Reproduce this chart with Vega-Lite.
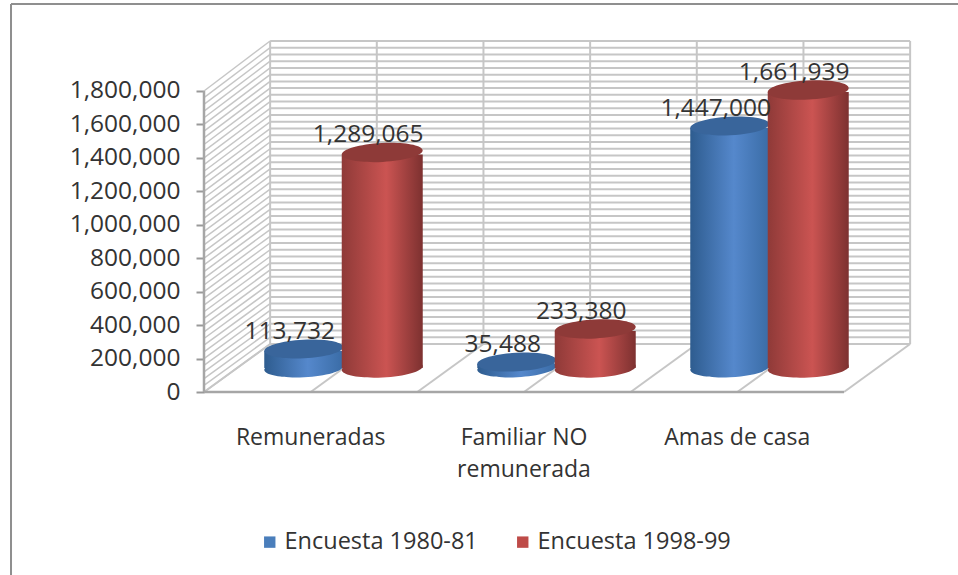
{"$schema":"https://vega.github.io/schema/vega-lite/v6.json","width":958,"height":575,"autosize":{"type":"none"},"padding":0,"background":"white","view":{"stroke":null},
"config":{"view":{"stroke":null},"font":"Open Sans"},
"datasets":{
"chart":[{"cat":"Remuneradas","series":"Encuesta 1980-81","value":113732},{"cat":"Remuneradas","series":"Encuesta 1998-99","value":1289065},{"cat":"Familiar NO remunerada","series":"Encuesta 1980-81","value":35488},{"cat":"Familiar NO remunerada","series":"Encuesta 1998-99","value":233380},{"cat":"Amas de casa","series":"Encuesta 1980-81","value":1447000},{"cat":"Amas de casa","series":"Encuesta 1998-99","value":1661939}],
"levels":[{"level":0,"back":287000},{"level":40000,"back":327267},{"level":80000,"back":367533},{"level":120000,"back":407800},{"level":160000,"back":448067},{"level":200000,"back":488333},{"level":240000,"back":528600},{"level":280000,"back":568867},{"level":320000,"back":609133},{"level":360000,"back":649400},{"level":400000,"back":689667},{"level":440000,"back":729933},{"level":480000,"back":770200},{"level":520000,"back":810467},{"level":560000,"back":850733},{"level":600000,"back":891000},{"level":640000,"back":931267},{"level":680000,"back":971533},{"level":720000,"back":1011800},{"level":760000,"back":1052067},{"level":800000,"back":1092333},{"level":840000,"back":1132600},{"level":880000,"back":1172867},{"level":920000,"back":1213133},{"level":960000,"back":1253400},{"level":1000000,"back":1293667},{"level":1040000,"back":1333933},{"level":1080000,"back":1374200},{"level":1120000,"back":1414467},{"level":1160000,"back":1454733},{"level":1200000,"back":1495000},{"level":1240000,"back":1535267},{"level":1280000,"back":1575533},{"level":1320000,"back":1615800},{"level":1360000,"back":1656067},{"level":1400000,"back":1696333},{"level":1440000,"back":1736600},{"level":1480000,"back":1776867},{"level":1520000,"back":1817133},{"level":1560000,"back":1857400},{"level":1600000,"back":1897667},{"level":1640000,"back":1937933},{"level":1680000,"back":1978200},{"level":1720000,"back":2018467},{"level":1760000,"back":2058733},{"level":1800000,"back":2099000}],
"sections":[{"u":0,"ub":0.62},{"u":1,"ub":1.62},{"u":2,"ub":2.62},{"u":3,"ub":3.62},{"u":4,"ub":4.62},{"u":5,"ub":5.62},{"u":6,"ub":6.62}],
"frame":[{"edge":"frame"}]
},
"layer":[
{"layer":[
{"data":{"name":"frame"},"mark":{"type":"rule","color":"#8f8f8f","strokeWidth":2},"encoding":{"x":{"datum":-1.8093,"type":"quantitative","scale":{"domain":[-1.9125,7.0688],"nice":false,"zero":false},"axis":null},"x2":{"datum":7.0688},"y":{"datum":2319900,"type":"quantitative","scale":{"domain":[-1094000,2344000],"nice":false,"zero":false},"axis":null}}},
{"data":{"name":"frame"},"mark":{"type":"rule","color":"#8f8f8f","strokeWidth":2},"encoding":{"x":{"datum":-1.8093,"type":"quantitative","scale":{"domain":[-1.9125,7.0688],"nice":false,"zero":false},"axis":null},"y":{"datum":2319900,"type":"quantitative","scale":{"domain":[-1094000,2344000],"nice":false,"zero":false},"axis":null},"y2":{"datum":-1094000}}},
{"data":{"name":"levels"},"mark":{"type":"rule","color":"#c6c6c6","strokeWidth":2},"encoding":{"x":{"datum":0.62,"type":"quantitative","scale":{"domain":[-1.9125,7.0688],"nice":false,"zero":false},"axis":null},"x2":{"datum":6.62},"y":{"field":"back","type":"quantitative","scale":{"domain":[-1094000,2344000],"nice":false,"zero":false},"axis":null}}},
{"data":{"name":"levels"},"mark":{"type":"rule","color":"#c6c6c6","strokeWidth":1.5},"encoding":{"x":{"datum":0,"type":"quantitative","scale":{"domain":[-1.9125,7.0688],"nice":false,"zero":false},"axis":null},"x2":{"datum":0.62},"y":{"field":"level","type":"quantitative","scale":{"domain":[-1094000,2344000],"nice":false,"zero":false},"axis":null},"y2":{"field":"back"}}},
{"data":{"name":"sections"},"mark":{"type":"rule","color":"#c6c6c6","strokeWidth":2},"encoding":{"x":{"field":"ub","type":"quantitative","scale":{"domain":[-1.9125,7.0688],"nice":false,"zero":false},"axis":null},"y":{"datum":287000,"type":"quantitative","scale":{"domain":[-1094000,2344000],"nice":false,"zero":false},"axis":null},"y2":{"datum":2099000}}},
{"data":{"name":"sections"},"mark":{"type":"rule","color":"#c6c6c6","strokeWidth":2},"encoding":{"x":{"field":"u","type":"quantitative","scale":{"domain":[-1.9125,7.0688],"nice":false,"zero":false},"axis":null},"x2":{"field":"ub"},"y":{"datum":0,"type":"quantitative","scale":{"domain":[-1094000,2344000],"nice":false,"zero":false},"axis":null},"y2":{"datum":287000}}},
{"data":{"name":"frame"},"mark":{"type":"rule","color":"#a6a6a6","strokeWidth":2.5},"encoding":{"x":{"datum":0,"type":"quantitative","scale":{"domain":[-1.9125,7.0688],"nice":false,"zero":false},"axis":null},"y":{"datum":0,"type":"quantitative","scale":{"domain":[-1094000,2344000],"nice":false,"zero":false},"axis":null},"y2":{"datum":1800000}}},
{"data":{"name":"frame"},"mark":{"type":"rule","color":"#a6a6a6","strokeWidth":2.5},"encoding":{"x":{"datum":0,"type":"quantitative","scale":{"domain":[-1.9125,7.0688],"nice":false,"zero":false},"axis":null},"x2":{"datum":6},"y":{"datum":0,"type":"quantitative","scale":{"domain":[-1094000,2344000],"nice":false,"zero":false},"axis":null}}}
]},
{"data":{"name":"levels"},"mark":{"type":"point","opacity":0},"encoding":{"y":{"field":"level","type":"quantitative","scale":{"domain":[-1094000,2344000],"nice":false,"zero":false},"axis":{"values":[0,200000,400000,600000,800000,1000000,1200000,1400000,1600000,1800000],"format":",d","title":null,"domain":false,"grid":false,"ticks":true,"tickSize":8,"tickWidth":2,"tickColor":"#999999","offset":-204,"labelPadding":16,"labelFont":"Open Sans","labelFontSize":24.5,"labelColor":"#333333","labelOverlap":false,"labelFlush":false}}}},
{"data":{"name":"chart"},"mark":{"type":"point","opacity":0},"encoding":{"x":{"field":"cat","type":"nominal","sort":null,"scale":{"type":"band","range":[204,844],"paddingInner":0,"paddingOuter":0},"axis":{"title":null,"domain":false,"ticks":false,"grid":false,"labelAngle":0,"offset":-183,"labelPadding":34,"labelFont":"Open Sans","labelFontSize":23,"labelColor":"#333333","labelLineHeight":32,"labelLimit":300,"labelExpr":"datum.label == 'Familiar NO remunerada' ? ['Familiar NO','remunerada'] : datum.label"}}}},
{"data":{"name":"chart"},
"encoding":{"x":{"field":"cat","type":"nominal","sort":null,"scale":{"type":"band","range":[236.5,875.5],"paddingInner":0,"paddingOuter":0},"axis":null},"xOffset":{"field":"series","type":"nominal","sort":null,"scale":{"paddingInner":0,"paddingOuter":0.357}},"y":{"field":"value","type":"quantitative","stack":null,"scale":{"domain":[-1237700,2200300],"nice":false,"zero":false},"axis":null}},
"layer":[
{"mark":{"type":"bar","width":77,"yOffset":6},"encoding":{"y2":{"datum":0},"color":{"field":"series","type":"nominal","scale":{"domain":["Encuesta 1980-81","Encuesta 1998-99"],"range":["#4a7ebb","#be4b48"]},"legend":{"title":null,"orient":"none","legendX":258,"legendY":530,"direction":"horizontal","symbolType":"square","symbolSize":130,"symbolStrokeWidth":0,"columnPadding":33,"labelFont":"Open Sans","labelFontSize":23.5,"labelColor":"#333333","labelLimit":300,"labelOffset":3}}}},
{"transform":[{"filter":"datum.series == 'Encuesta 1980-81'"}],"mark":{"type":"point","filled":true,"opacity":1,"size":6241,"angle":-3,"shape":"M -1 0 A 1 0.235 0 1 0 1 0 A 1 0.235 0 1 0 -1 0 Z","fill":{"gradient":"linear","x1":0,"y1":0,"x2":1,"y2":0,"stops":[{"offset":0,"color":"#2e5c8f"},{"offset":0.55,"color":"#5588cc"},{"offset":1,"color":"#3a6ca6"}]}},"encoding":{"y":{"datum":0,"type":"quantitative"}}},
{"transform":[{"filter":"datum.series == 'Encuesta 1980-81'"}],"mark":{"type":"bar","width":79,"yOffset":2,"fill":{"gradient":"linear","x1":0,"y1":0,"x2":1,"y2":0,"stops":[{"offset":0,"color":"#2e5c8f"},{"offset":0.55,"color":"#5588cc"},{"offset":1,"color":"#3a6ca6"}]}},"encoding":{"y2":{"datum":0}}},
{"transform":[{"filter":"datum.series == 'Encuesta 1980-81'"}],"mark":{"type":"point","filled":true,"opacity":1,"size":6241,"angle":-3,"shape":"M -1 0 A 1 0.235 0 1 0 1 0 A 1 0.235 0 1 0 -1 0 Z","fill":"#39659b"}},
{"transform":[{"filter":"datum.series == 'Encuesta 1998-99'"}],"mark":{"type":"point","filled":true,"opacity":1,"size":6561,"angle":-3,"shape":"M -1 0 A 1 0.235 0 1 0 1 0 A 1 0.235 0 1 0 -1 0 Z","fill":{"gradient":"linear","x1":0,"y1":0,"x2":1,"y2":0,"stops":[{"offset":0,"color":"#8f3a38"},{"offset":0.55,"color":"#cb5452"},{"offset":1,"color":"#7d3130"}]}},"encoding":{"y":{"datum":0,"type":"quantitative"}}},
{"transform":[{"filter":"datum.series == 'Encuesta 1998-99'"}],"mark":{"type":"bar","width":81,"yOffset":2,"fill":{"gradient":"linear","x1":0,"y1":0,"x2":1,"y2":0,"stops":[{"offset":0,"color":"#8f3a38"},{"offset":0.55,"color":"#cb5452"},{"offset":1,"color":"#7d3130"}]}},"encoding":{"y2":{"datum":0}}},
{"transform":[{"filter":"datum.series == 'Encuesta 1998-99'"}],"mark":{"type":"point","filled":true,"opacity":1,"size":6561,"angle":-3,"shape":"M -1 0 A 1 0.235 0 1 0 1 0 A 1 0.235 0 1 0 -1 0 Z","fill":"#8e3a38"}},
{"mark":{"type":"text","font":"Open Sans","fontSize":24.5,"color":"#333333","dx":-14,"dy":-17,"baseline":"middle"},"encoding":{"text":{"field":"value","type":"quantitative","format":",d"}}}
]}
],
"resolve":{"scale":{"x":"independent","y":"independent","xOffset":"independent"}}}
